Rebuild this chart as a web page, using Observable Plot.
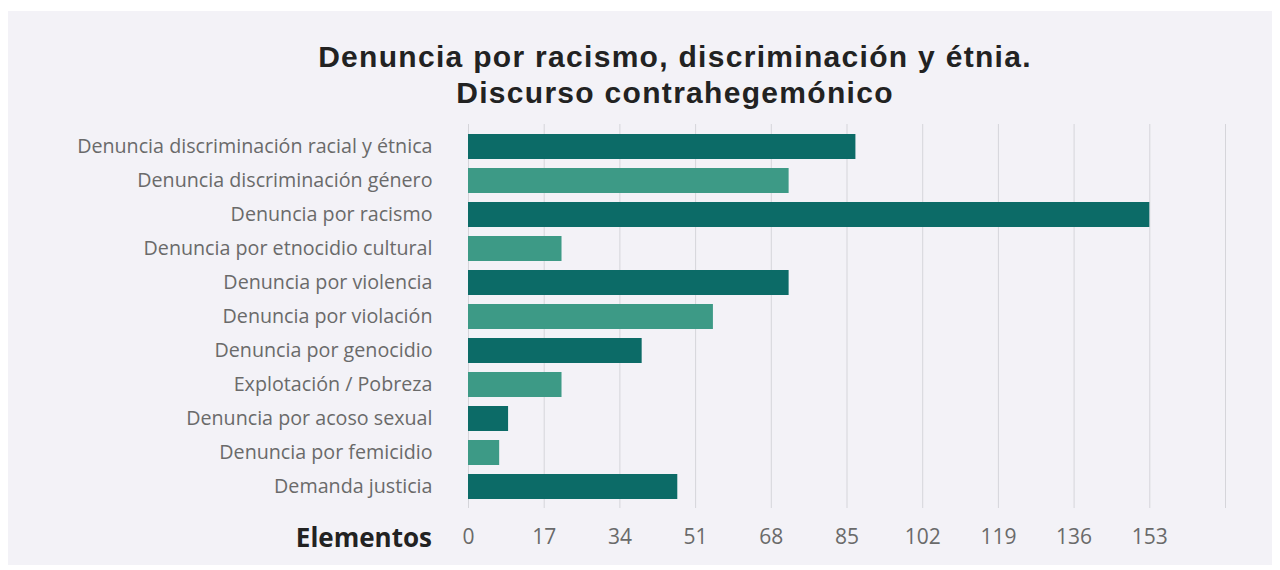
<!DOCTYPE html>
<html>
<head>
<meta charset="utf-8">
<script src="https://cdn.jsdelivr.net/npm/d3@7"></script>
<script src="https://cdn.jsdelivr.net/npm/@observablehq/plot@0.6"></script>
<style>
  html, body { margin: 0; padding: 0; background: #ffffff; }
  body { width: 1280px; height: 570px; position: relative; overflow: hidden; }
  #panel { position: absolute; left: 8px; top: 11px; width: 1264px; height: 554px; background: #f3f2f7; }
  .title { position: absolute; left: 0; width: 1350px; text-align: center; white-space: nowrap;
           font-family: "Liberation Sans", Arial, sans-serif; font-weight: 700; font-size: 30px;
           letter-spacing: 1.3px;
           line-height: 35px; height: 35px; color: #222; margin: 0; }
  #title1 { top: 39px; }
  #title2 { top: 75px; }
  #chart { position: absolute; left: 0; top: 110px; }
  #xlabel { position: absolute; right: 848px; top: 522px; font-family: "Open Sans", sans-serif;
            font-weight: 700; font-size: 26px; color: #222; line-height: 30px; }
</style>
</head>
<body>
<div id="panel"></div>
<div class="title" id="title1">Denuncia por racismo, discriminación y étnia.</div>
<div class="title" id="title2">Discurso contrahegemónico</div>
<div id="chart"></div>
<div id="xlabel">Elementos</div>
<script>
const categories = [
  "Denuncia discriminación racial y étnica",
  "Denuncia discriminación género",
  "Denuncia por racismo",
  "Denuncia por etnocidio cultural",
  "Denuncia por violencia",
  "Denuncia por violación",
  "Denuncia por genocidio",
  "Explotación / Pobreza",
  "Denuncia por acoso sexual",
  "Denuncia por femicidio",
  "Demanda justicia"
];
const values = [87, 72, 153, 21, 72, 55, 39, 21, 9, 7, 47];
const xTickLabels = [0, 17, 34, 51, 68, 85, 102, 119, 136, 153];
const gridValues = [0, 17, 34, 51, 68, 85, 102, 119, 136, 153, 170];

const data = categories.map((c, i) => ({category: c, value: values[i]}));
const dark = "#0c6b67";
const light = "#3d9a86";

const chart = Plot.plot({
  width: 1280,
  height: 455,
  marginLeft: 468,
  marginRight: 55,
  marginTop: 14,
  marginBottom: 57,
  x: {domain: [0, 170]},
  y: {domain: categories, paddingInner: 0.27, paddingOuter: 0.14},
  color: {type: "identity"},
  style: {background: "transparent", color: "#6a6a6a", fontFamily: "'Open Sans', sans-serif"},
  marks: [
    Plot.gridX(gridValues, {stroke: "#d5d5da", strokeOpacity: 1}),
    Plot.barX(data, {x: "value", y: "category", fill: (d, i) => (i % 2 === 0 ? dark : light)}),
    Plot.axisY({tickSize: 0, tickPadding: 36, fontSize: 19.7, label: null}),
    Plot.axisX({ticks: xTickLabels, tickSize: 0, tickPadding: 20.5, fontSize: 21, label: null})
  ]
});
document.getElementById("chart").appendChild(chart);
</script>
</body>
</html>
